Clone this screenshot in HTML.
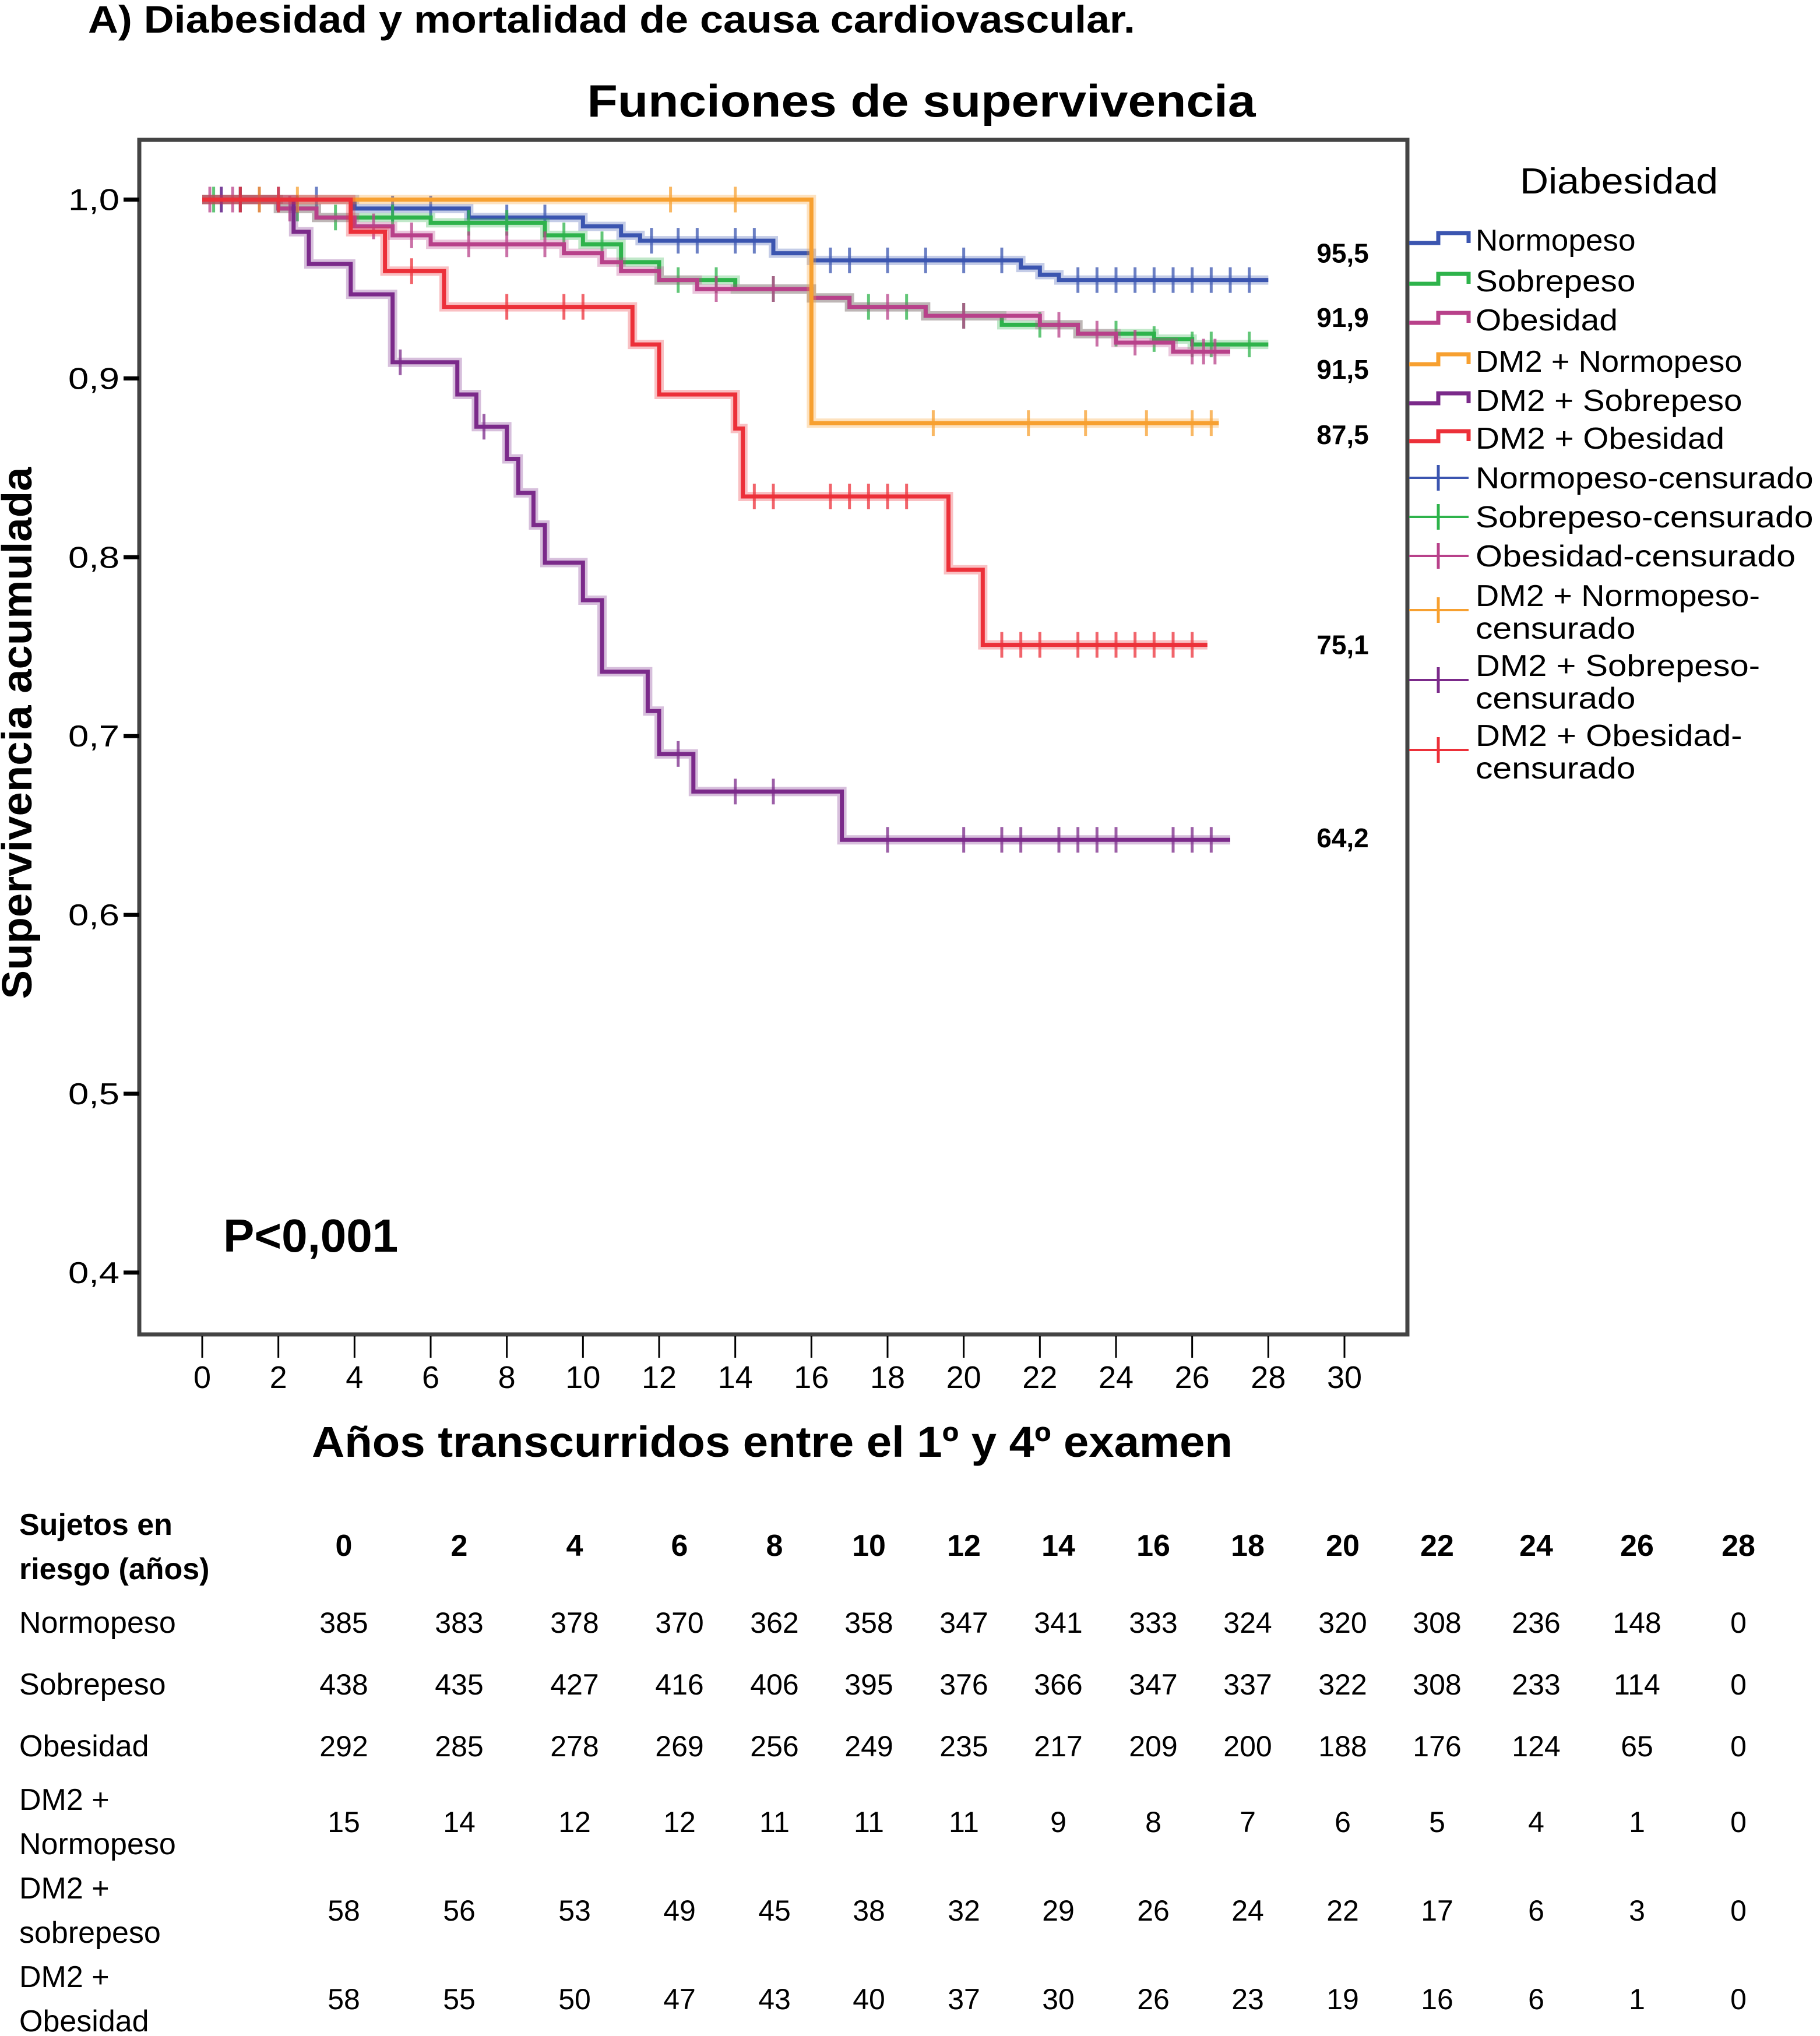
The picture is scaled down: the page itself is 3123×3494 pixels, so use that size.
<!DOCTYPE html>
<html><head><meta charset="utf-8"><style>
html,body{margin:0;padding:0;background:#fff;}
svg{display:block;}
text{font-family:"Liberation Sans",sans-serif;}
</style></head><body>
<svg id="chart" width="3123" height="3494" viewBox="0 0 3123 3494" xmlns="http://www.w3.org/2000/svg">
<text x="151" y="56" font-size="66" font-weight="bold" textLength="1797" lengthAdjust="spacingAndGlyphs">A) Diabesidad y mortalidad de causa cardiovascular.</text>
<text x="1581" y="200" font-size="78" font-weight="bold" text-anchor="middle" textLength="1147" lengthAdjust="spacingAndGlyphs">Funciones de supervivencia</text>
<rect x="239" y="240" width="2176" height="2050" fill="#fff" stroke="#444" stroke-width="7"/>
<g id="yaxis"></g>
<g id="xaxis"></g>
<text transform="translate(54,1258) rotate(-90)" font-size="72" font-weight="bold" text-anchor="middle" textLength="913" lengthAdjust="spacingAndGlyphs">Supervivencia acumulada</text>
<text x="1325" y="2500" font-size="74" font-weight="bold" text-anchor="middle" textLength="1580" lengthAdjust="spacingAndGlyphs">Años transcurridos entre el 1º y 4º examen</text>
<text x="383" y="2148" font-size="80" font-weight="bold">P&lt;0,001</text>
<g id="series"></g>
<g id="endlabels"></g>
<g id="legend">
<text x="2778" y="332" font-size="62" text-anchor="middle" textLength="340" lengthAdjust="spacingAndGlyphs">Diabesidad</text>
</g>
<g id="table">
<text x="33" y="2634" font-size="52" font-weight="bold">Sujetos en</text>
<text x="33" y="2710" font-size="52" font-weight="bold">riesgo (años)</text>
</g>
</svg>
<script>
const NS='http://www.w3.org/2000/svg';
const X0=347,X1=2307,YT=342.5,PER=306.9;
function sx(t){return X0+(X1-X0)*t/30;}
function sy(v){return YT+(1-v)/0.1*PER;}
function mk(tag,attrs,parent){const e=document.createElementNS(NS,tag);for(const k in attrs)e.setAttribute(k,attrs[k]);parent.appendChild(e);return e;}

const yTicks=[1.0,0.9,0.8,0.7,0.6,0.5,0.4];
const yTickLabels=['1,0','0,9','0,8','0,7','0,6','0,5','0,4'];
const xTicks=[0,2,4,6,8,10,12,14,16,18,20,22,24,26,28,30];

const seriesNames=['Normopeso','Sobrepeso','Obesidad','DM2 + Normopeso','DM2 + Sobrepeso','DM2 + Obesidad'];
const seriesColors=['#3b55b0','#2eb34b','#b8418a','#f7a030','#7b2a8a','#ec3039'];
const tNormo=[0,4,7,10,11,11.5,15,16,21.5,22,22.5,28];
const vNormo=[1,0.995,0.99,0.985,0.98,0.977,0.97,0.966,0.962,0.958,0.955,0.955];
const tSobre=[0,2,3,6,9,10,11,12,14,16,17,19,21,23,25,26,28];
const vSobre=[1,0.995,0.99,0.987,0.98,0.975,0.965,0.955,0.95,0.945,0.94,0.935,0.93,0.925,0.922,0.919,0.919];
const tObes=[0,2,3,4,5,6,9.5,10.5,11,12,13,16,17,19,22,23,24,25.5,27];
const vObes=[1,0.995,0.99,0.985,0.98,0.975,0.97,0.965,0.96,0.955,0.95,0.945,0.94,0.935,0.93,0.925,0.92,0.915,0.915];
const tDmNormo=[0,16,26.7];
const vDmNormo=[1,0.875,0.875];
const tDmSobre=[0,2.4,2.8,3.9,5.0,6.7,7.2,8.0,8.3,8.7,9.0,10.0,10.5,11.7,12.0,12.9,16.8,27];
const vDmSobre=[1,0.982,0.964,0.947,0.909,0.891,0.873,0.855,0.836,0.818,0.797,0.776,0.736,0.714,0.69,0.669,0.642,0.642];
const tDmObes=[0,3.9,4.8,6.35,11.3,12,14,14.2,19.6,20.5,26.4];
const vDmObes=[1,0.982,0.96,0.94,0.919,0.891,0.872,0.834,0.793,0.751,0.751];
const cNormo=[0.5,1,1.5,2,3,5,6,8,9,11.8,12.5,13,14,14.5,16.5,17,18,19,20,21,23,23.5,24,24.5,25,25.5,26,26.5,27,27.5];
const cSobre=[0.3,1,2.5,3.5,5,7,8,9.5,10.5,12.5,13.5,15,17.5,18.5,20,22,24,25,26,26.5,27.5];
const cObes=[0.2,0.8,1.5,2.3,4.5,5.5,7,8,9,13.5,15,18,20,22.5,23.5,24.5,26,26.3,26.6];
const cDmNormo=[1.5,2.5,12.3,14,19.2,21.7,23.2,24.8,26,26.5];
const cDmSobre=[0.5,1,5.2,7.4,12.5,14,15,18,20,21,21.5,22.5,23,23.5,24,25.5,26,26.5];
const cDmObes=[1,2,5.5,8,9.5,10,14.5,15,16.5,17,17.5,18,18.5,21,21.5,22,23,23.5,24,24.5,25,25.5,26];
const seriesT=[tNormo,tSobre,tObes,tDmNormo,tDmSobre,tDmObes];
const seriesV=[vNormo,vSobre,vObes,vDmNormo,vDmSobre,vDmObes];
const seriesC=[cNormo,cSobre,cObes,cDmNormo,cDmSobre,cDmObes];
const endLabels=['95,5','91,9','91,5','87,5','75,1','64,2'];
const endLabelY=[0.970,0.934,0.905,0.8685,0.751,0.643];

const tableCols=['0','2','4','6','8','10','12','14','16','18','20','22','24','26','28'];
const rowNames=[['Normopeso'],['Sobrepeso'],['Obesidad'],['DM2 +','Normopeso'],['DM2 +','sobrepeso'],['DM2 +','Obesidad']];
const rNormo=[385,383,378,370,362,358,347,341,333,324,320,308,236,148,0];
const rSobre=[438,435,427,416,406,395,376,366,347,337,322,308,233,114,0];
const rObes=[292,285,278,269,256,249,235,217,209,200,188,176,124,65,0];
const rDmNormo=[15,14,12,12,11,11,11,9,8,7,6,5,4,1,0];
const rDmSobre=[58,56,53,49,45,38,32,29,26,24,22,17,6,3,0];
const rDmObes=[58,55,50,47,43,40,37,30,26,23,19,16,6,1,0];
const riskRows=[rNormo,rSobre,rObes,rDmNormo,rDmSobre,rDmObes];

const ya=document.getElementById('yaxis');
yTicks.forEach((v,i)=>{
  const l=mk('line',{x1:212,x2:239,y1:sy(v),y2:sy(v),stroke:'#000','stroke-width':7},ya);
  
  
  const t=mk('text',{x:205,y:sy(v)+18,'font-size':52,'text-anchor':'end',textLength:88,lengthAdjust:'spacingAndGlyphs'},ya);
  t.textContent=yTickLabels[i];
  
  
});
const xa=document.getElementById('xaxis');
xTicks.forEach(v=>{
  const l=mk('line',{x1:sx(v),x2:sx(v),y1:2293,y2:2330,stroke:'#000','stroke-width':3},xa);
  
  
  const t=mk('text',{x:sx(v),y:2382,'font-size':54,'text-anchor':'middle'},xa);
  t.textContent=String(v);
  
  
});

const sg=document.getElementById('series');
function valAt(T,V,t){let v=V[0];for(let i=0;i<T.length;i++){if(T[i]<=t)v=V[i];}return v;}
seriesT.forEach((T,si)=>{
  const V=seriesV[si],col=seriesColors[si];
  let d='M'+sx(T[0])+','+sy(V[0]);
  for(let i=1;i<T.length;i++){d+=' H'+sx(T[i])+' V'+sy(V[i]);}
  const g=mk('g',{},sg);
  
  
  mk('path',{d:d,fill:'none',stroke:col,'stroke-width':16,'stroke-opacity':0.3},g);
  const p=mk('path',{d:d,fill:'none',stroke:col,'stroke-width':7},g);
  
  
  seriesC[si].forEach(c=>{
    const y=sy(valAt(T,V,c));
    const m=mk('line',{x1:sx(c),x2:sx(c),y1:y-22,y2:y+22,stroke:col,'stroke-width':5,'stroke-opacity':0.75},g);
    
    
  });
});
const el=document.getElementById('endlabels');
endLabels.forEach((s,i)=>{
  const t=mk('text',{x:2304,y:sy(endLabelY[i])+16,'font-size':46,'font-weight':'bold','text-anchor':'middle'},el);
  t.textContent=s;
  
  
});

const lg=document.getElementById('legend');
const legY=[412,482,549,620,687,752,820,887,954,1022,1142,1262];
const legTxt=[['Normopeso'],['Sobrepeso'],['Obesidad'],['DM2 + Normopeso'],['DM2 + Sobrepeso'],['DM2 + Obesidad'],['Normopeso-censurado'],['Sobrepeso-censurado'],['Obesidad-censurado'],['DM2 + Normopeso-','censurado'],['DM2 + Sobrepeso-','censurado'],['DM2 + Obesidad-','censurado']];
legTxt.forEach((lines,i)=>{
  const col=seriesColors[i%6],y=legY[i];
  const g=mk('g',{},lg);
  
  
  if(i<6){
    mk('path',{d:`M2418,${y+5} H2468 V${y-12} H2520 V${y+5}`,fill:'none',stroke:col,'stroke-width':7},g);
  }else{
    const ly=(lines.length>1)?y+25:y;
    mk('line',{x1:2418,x2:2520,y1:ly,y2:ly,stroke:col,'stroke-width':4},g);
    mk('line',{x1:2468,x2:2468,y1:ly-22,y2:ly+22,stroke:col,'stroke-width':5},g);
  }
  lines.forEach((s,k)=>{
    const t=mk('text',{x:2532,y:y+18+k*56,'font-size':52},g);
    t.setAttribute('textLength',s.length*30.5);
    t.setAttribute('lengthAdjust','spacingAndGlyphs');
    t.textContent=s;
  });
});

const tb=document.getElementById('table');
const colX=[590,788,986,1166,1329,1491,1654,1816,1979,2141,2304,2466,2636,2809,2983];
tableCols.forEach((c,i)=>{
  const t=mk('text',{x:colX[i],y:2670,'font-size':52,'font-weight':'bold','text-anchor':'middle'},tb);
  t.textContent=c;
  
  
});
const rowY=[2802,2908,3014,3144,3296,3448];
riskRows.forEach((r,ri)=>{
  const names=rowNames[ri];
  names.forEach((n,k)=>{
    const t=mk('text',{x:33,y:(names.length>1?rowY[ri]-38+k*76:rowY[ri]),'font-size':52},tb);
    t.textContent=n;
    
    
  });
  r.forEach((v,i)=>{
    const t=mk('text',{x:colX[i],y:rowY[ri],'font-size':50,'text-anchor':'middle'},tb);
    t.textContent=String(v);
    
    
  });
});
</script>
</body></html>
